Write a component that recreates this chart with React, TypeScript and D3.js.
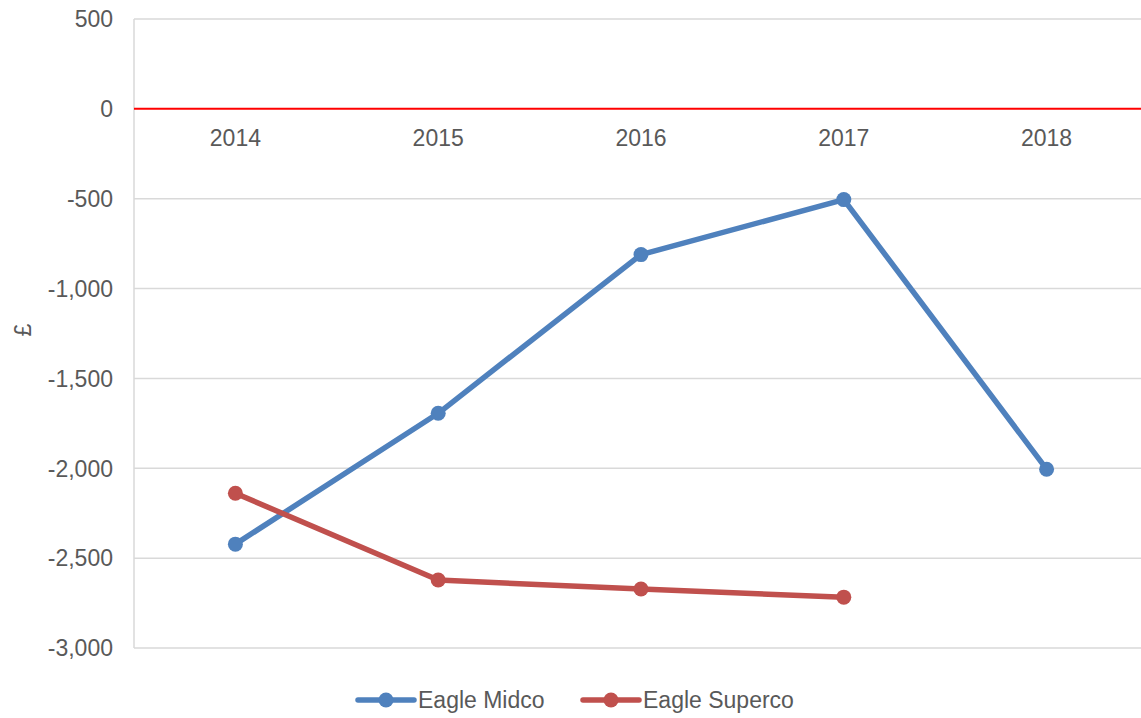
import * as d3 from 'd3';

// chart data
const YEARS = ['2014', '2015', '2016', '2017', '2018'];
const MIDCO = [-2422, -1694, -811, -505, -2005];
const SUPERCO: (number | null)[] = [-2139, -2622, -2672, -2717, null];
const Y_TICKS = [500, 0, -500, -1000, -1500, -2000, -2500, -3000];
const SERIES_NAMES = ['Eagle Midco', 'Eagle Superco'];
const SERIES_COLORS = ['#4F81BD', '#C0504D'];

const W = 1141;
const H = 718;
const FONT = '"Liberation Sans", Arial, sans-serif';
const TEXT = '#595959';

export default function App() {
  const left = 134;
  const x = d3.scaleBand<string>().domain(YEARS).range([left, left + 5 * 202.8]);
  const y = d3.scaleLinear().domain([-3000, 500]).range([648, 19]);
  const cx = (d: string) => (x(d) as number) + x.bandwidth() / 2;
  // excel style: plain hyphen for negatives
  const fmt = (v: number) => d3.format(',')(v).replace('\u2212', '-');

  const series = [MIDCO, SUPERCO].map((vals, i) => ({
    name: SERIES_NAMES[i],
    color: SERIES_COLORS[i],
    pts: YEARS.map((yr, j) => ({ yr, v: vals[j] })).filter(p => p.v !== null) as { yr: string; v: number }[],
  }));

  const line = d3.line<{ yr: string; v: number }>().x(d => cx(d.yr)).y(d => y(d.v));

  const legendItems = [
    { x0: 358, name: SERIES_NAMES[0], color: SERIES_COLORS[0] },
    { x0: 583, name: SERIES_NAMES[1], color: SERIES_COLORS[1] },
  ];

  return (
    <div style={{ position: 'absolute', left: 0, top: 0 }}>
      <svg width={W} height={H} style={{ display: 'block', background: '#fff' }} fontFamily={FONT}>
        {/* gridlines */}
        {Y_TICKS.filter(t => t !== 0).map(t => (
          <line key={t} x1={left} x2={W + 10} y1={y(t)} y2={y(t)} stroke="#d9d9d9" strokeWidth={1.5} />
        ))}
        {/* y axis line */}
        <line x1={left} x2={left} y1={y(500)} y2={y(-3000)} stroke="#d9d9d9" strokeWidth={1.5} />
        {/* zero line */}
        <line x1={left} x2={W + 10} y1={y(0)} y2={y(0)} stroke="#FF0000" strokeWidth={2} />

        {/* y tick labels */}
        {Y_TICKS.map(t => (
          <text key={t} x={113} y={y(t)} dy="0.36em" textAnchor="end" fontSize={23} fill={TEXT}>
            {fmt(t)}
          </text>
        ))}
        {/* y axis title */}
        <text transform={`translate(31,330) rotate(-90)`} textAnchor="middle" fontSize={23} fill={TEXT}>£</text>

        {/* category labels */}
        {YEARS.map(yr => (
          <text key={yr} x={cx(yr)} y={y(0) + 37} textAnchor="middle" fontSize={23} fill={TEXT}>
            {yr}
          </text>
        ))}

        {/* series */}
        {series.map(s => (
          <g key={s.name}>
            <path d={line(s.pts) || ''} fill="none" stroke={s.color} strokeWidth={5.5} strokeLinejoin="round" strokeLinecap="round" />
            {s.pts.map(p => (
              <circle key={p.yr} cx={cx(p.yr)} cy={y(p.v)} r={7.5} fill={s.color} />
            ))}
          </g>
        ))}

        {/* legend */}
        {legendItems.map(l => (
          <g key={l.name}>
            <line x1={l.x0} x2={l.x0 + 56} y1={700} y2={700} stroke={l.color} strokeWidth={5.5} strokeLinecap="round" />
            <circle cx={l.x0 + 28} cy={700} r={7.5} fill={l.color} />
            <text x={l.x0 + 60} y={700} dy="0.36em" fontSize={23} fill={TEXT}>{l.name}</text>
          </g>
        ))}
      </svg>
    </div>
  );
}
